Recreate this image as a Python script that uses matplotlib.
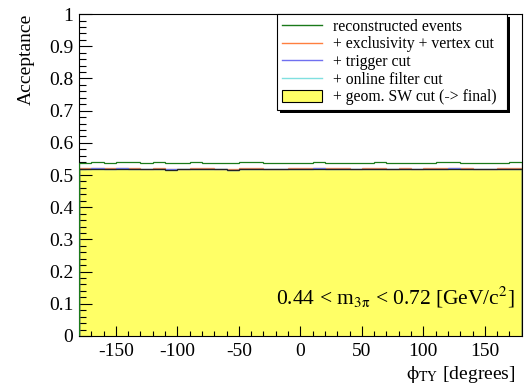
import numpy as np
import matplotlib
matplotlib.use("Agg")
import matplotlib.pyplot as plt
from matplotlib.patches import Patch, Rectangle
from matplotlib.lines import Line2D

plt.rcParams['font.family'] = ['Liberation Serif', 'DejaVu Serif']
plt.rcParams['mathtext.fontset'] = 'stix'
plt.rcParams['axes.unicode_minus'] = False

# histogram binning in phi_TY (10 degree bins)
edges = np.arange(-180, 181, 10)

# acceptance per bin
reco = [0.538, 0.539, 0.538, 0.540, 0.539, 0.538, 0.539, 0.537, 0.538, 0.540,
        0.538, 0.537, 0.536, 0.539, 0.539, 0.538, 0.537, 0.538, 0.538, 0.539,
        0.538, 0.538, 0.537, 0.538, 0.539, 0.538, 0.538, 0.537, 0.538, 0.539,
        0.540, 0.538, 0.538, 0.537, 0.538, 0.539]
excl = [0.521, 0.522, 0.521, 0.522, 0.521, 0.520, 0.521, 0.519, 0.520, 0.521,
        0.521, 0.520, 0.518, 0.521, 0.521, 0.520, 0.520, 0.521, 0.521, 0.522,
        0.521, 0.521, 0.520, 0.521, 0.521, 0.520, 0.521, 0.520, 0.521, 0.521,
        0.522, 0.521, 0.520, 0.520, 0.521, 0.521]
trig = [0.520, 0.521, 0.520, 0.521, 0.520, 0.519, 0.520, 0.518, 0.519, 0.520,
        0.520, 0.519, 0.517, 0.520, 0.520, 0.519, 0.519, 0.520, 0.520, 0.521,
        0.520, 0.520, 0.519, 0.520, 0.520, 0.519, 0.520, 0.519, 0.520, 0.520,
        0.521, 0.520, 0.519, 0.519, 0.520, 0.520]
online = [0.519, 0.520, 0.519, 0.520, 0.519, 0.518, 0.519, 0.517, 0.518, 0.519,
          0.519, 0.518, 0.516, 0.519, 0.519, 0.518, 0.518, 0.519, 0.519, 0.520,
          0.519, 0.519, 0.518, 0.519, 0.519, 0.518, 0.519, 0.518, 0.519, 0.519,
          0.520, 0.519, 0.518, 0.518, 0.519, 0.519]
final = online

c_reco = '#1a7a1a'
c_excl = '#ff7f3f'
c_trig = '#7070f0'
c_online = '#80e0e0'
c_final = '#ffff66'

fig = plt.figure(figsize=(5.26, 3.92), dpi=100)
ax = fig.add_axes([0.150, 0.143, 0.842, 0.821])

ax.stairs(final, edges, fill=True, color=c_final, zorder=1)
ax.stairs(excl, edges, color=c_excl, lw=0.9, zorder=2)
ax.stairs(trig, edges, color=c_trig, lw=0.9, zorder=2)
ax.stairs(online, edges, color=c_online, lw=0.9, zorder=2)
ax.stairs(final, edges, color='#222222', lw=0.9, zorder=3)
ax.stairs(reco, edges, color=c_reco, lw=0.9, zorder=3)

ax.set_xlim(-180, 180)
ax.set_ylim(0, 1)

ax.set_xticks(np.arange(-150, 151, 50))
ax.set_xticks(np.arange(-170, 171, 10), minor=True)
ax.set_yticks(np.arange(0, 1.01, 0.1))
ax.set_yticks(np.arange(0, 1.001, 0.02), minor=True)
ax.set_yticklabels(['%g' % round(v, 1) for v in np.arange(0, 1.01, 0.1)])

ax.tick_params(axis='both', which='both', direction='in', labelsize=14)
ax.tick_params(axis='x', which='major', length=7, width=0.8, pad=5)
ax.tick_params(axis='x', which='minor', length=3.5, width=0.8)
ax.tick_params(axis='y', which='major', length=9.5, width=0.8, pad=4)
ax.tick_params(axis='y', which='minor', length=4.8, width=0.8)
for s in ax.spines.values():
    s.set_linewidth(0.8)

xl = ax.set_xlabel(r'$\mathrm{\phi}_{\mathrm{TY}}$ [degrees]', fontsize=14,
                   loc='right', labelpad=3)
xl.set_x(0.985)
ax.set_ylabel('Acceptance', fontsize=14, loc='top', labelpad=10)

ax.text(0.984, 0.121, r'0.44 < m$_{3\mathrm{\pi}}$ < 0.72 [GeV/c$^{2}$]',
        transform=ax.transAxes, ha='right', va='center', fontsize=15.5)

handles = [
    Line2D([], [], color=c_reco, lw=1),
    Line2D([], [], color=c_excl, lw=1),
    Line2D([], [], color=c_trig, lw=1),
    Line2D([], [], color=c_online, lw=1),
    Patch(facecolor=c_final, edgecolor='black', lw=0.8),
]
labels = ['reconstructed events', '+ exclusivity + vertex cut', '+ trigger cut',
          '+ online filter cut', '+ geom. SW cut (-> final)']
leg = ax.legend(handles, labels, loc='upper left', mode='expand',
                bbox_to_anchor=(0.447, 0.711, 0.519, 0.289), borderaxespad=0,
                fontsize=11.3, handlelength=2.55, handleheight=0.8,
                handletextpad=0.75, labelspacing=0.1, borderpad=0.3,
                fancybox=False, framealpha=1, edgecolor='black')
leg.get_frame().set_linewidth(0.8)
leg.set_zorder(5)

# ROOT style drop shadow behind the legend box
fig.canvas.draw()
bb = leg.get_window_extent()
shadow = Rectangle((bb.x0 + 3, bb.y0 - 3), bb.width, bb.height,
                   transform=None, facecolor='black', edgecolor='none', zorder=4)
ax.add_artist(shadow)

fig.savefig('out.png', dpi=100)
